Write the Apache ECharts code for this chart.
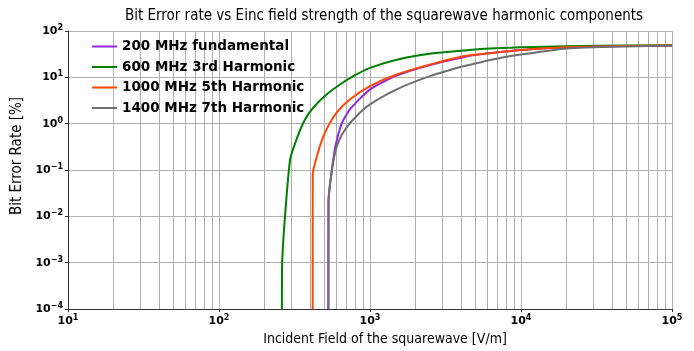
<!DOCTYPE html>
<html>
<head>
<meta charset="utf-8">
<script src="https://cdn.jsdelivr.net/npm/echarts@6/dist/echarts.min.js"></script>
<style>html,body{margin:0;padding:0;background:#fff;}#c{width:694px;height:351px;}</style>
</head>
<body>
<div id="c"></div>
<script>
const seriesNames = ['200 MHz fundamental', '600 MHz 3rd Harmonic', '1000 MHz 5th Harmonic', '1400 MHz 7th Harmonic'];
const seriesColors = ['#8a2be2', '#008000', '#ff4500', '#6e6e6e'];

const f200 = [[530,1e-4],[531,0.02],[586,0.287],[649,1.0],[738,2.05],[1000,5.5],[1503,10.9],[2494,18.5],[4150,27.2],[5350,31.3],[7260,35],[10000,39],[20000,44.5],[50000,47.5],[100000,48.5]];
const f600 = [[261,1e-4],[262,1e-3],[295,0.161],[327,0.47],[372,1.25],[422,2.23],[517,4.29],[633,7.0],[775,10.6],[1000,16.0],[1503,24],[2494,32.3],[4150,37.9],[5350,41],[7260,42.7],[10000,44.5],[20000,47],[50000,48.5],[100000,49]];
const f1000 = [[417,1e-4],[417.5,0.077],[467,0.337],[517,0.77],[601,1.74],[738,3.36],[1000,6.46],[1503,11.5],[2494,18.8],[4150,28.5],[5350,31.5],[7260,35],[10000,39],[20000,44.5],[50000,47.5],[100000,48.5]];
const f1400 = [[530,1e-4],[531,0.02],[571,0.149],[617,0.4],[700,0.83],[859,1.74],[1000,2.62],[1503,5.5],[2494,10.6],[4150,17.3],[5350,21],[7260,26],[10000,31],[20100,42],[50000,46.5],[100000,48]];
const seriesData = [f200, f600, f1000, f1400];

const xMinorGrid = [20,30,40,50,60,70,80,90,200,300,400,500,600,700,800,900,2000,3000,4000,5000,6000,7000,8000,9000,20000,30000,40000,50000,60000,70000,80000,90000];

const supFmt = v => {
  const e = Math.round(Math.log10(v));
  return '10{sup|' + (e < 0 ? '\u2212' + (-e) : e) + '}';
};
const labelRich = { sup: { fontSize: 8, fontWeight: 'bold', color: '#000', verticalAlign: 'top', padding: [0,0,6,0], fontFamily: 'DejaVu Sans' } };
const gridColor = '#b0b0b0';

const chart = echarts.init(document.getElementById('c'), null, { renderer: 'canvas' });
const series = seriesNames.map((n, i) => ({
  name: n,
  type: 'line',
  data: seriesData[i],
  symbol: 'none',
  smooth: 0.2,
  lineStyle: { width: 2, color: seriesColors[i] },
  itemStyle: { color: seriesColors[i] },
  z: 3 + i,
  markLine: i === 0 ? {
    silent: true, symbol: ['none','none'], label: { show: false },
    lineStyle: { color: gridColor, width: 1, type: 'solid' },
    data: xMinorGrid.map(v => ({ xAxis: v })),
    animation: false, z: 1
  } : undefined
}));

chart.setOption({
  animation: false,
  backgroundColor: '#fff',
  title: {
    text: 'Bit Error rate vs Einc field strength of the squarewave harmonic components',
    left: 379, textAlign: 'center', top: 4,
    textStyle: { fontFamily: 'DejaVu Sans Condensed', fontSize: 15, fontWeight: 'normal', color: '#000' }
  },
  grid: { left: 68, right: 22, top: 31, bottom: 39, containLabel: false },
  legend: {
    left: 92, top: 39.5, orient: 'vertical', padding: 0,
    icon: 'rect',
    itemWidth: 25, itemHeight: 2, itemGap: 6.5,
    textStyle: { fontFamily: 'DejaVu Sans', fontWeight: 'bold', fontSize: 13.5, lineHeight: 14, color: '#000' },
    data: seriesNames
  },
  xAxis: {
    type: 'log', logBase: 10, min: 10, max: 100000,
    name: 'Incident Field of the squarewave [V/m]',
    nameLocation: 'middle', nameGap: 23,
    nameTextStyle: { fontFamily: 'DejaVu Sans Condensed', fontSize: 14, color: '#000', padding: [0,0,0,30] },
    axisLine: { show: true, onZero: false, lineStyle: { color: '#333', width: 1 } },
    axisTick: { show: true, length: 3, lineStyle: { color: '#333' } },
    minorTick: { show: false },
    axisLabel: { formatter: supFmt, rich: labelRich, fontFamily: 'DejaVu Sans', fontWeight: 'bold', fontSize: 11, color: '#000', margin: 5 },
    splitLine: { show: true, lineStyle: { color: gridColor, width: 1 } }
  },
  yAxis: {
    type: 'log', logBase: 10, min: 1e-4, max: 100,
    name: 'Bit Error Rate [%]',
    nameLocation: 'middle', nameGap: 34, nameRotate: 90,
    nameTextStyle: { fontFamily: 'DejaVu Sans Condensed', fontSize: 15, color: '#000', padding: [0,0,0,28] },
    axisLine: { show: true, lineStyle: { color: '#333', width: 1 } },
    axisTick: { show: true, length: 3, lineStyle: { color: '#333' } },
    axisLabel: { formatter: supFmt, rich: labelRich, fontFamily: 'DejaVu Sans', fontWeight: 'bold', fontSize: 11, color: '#000', margin: 5 },
    splitLine: { show: true, lineStyle: { color: gridColor, width: 1 } }
  },
  series: series
});
</script>
</body>
</html>
